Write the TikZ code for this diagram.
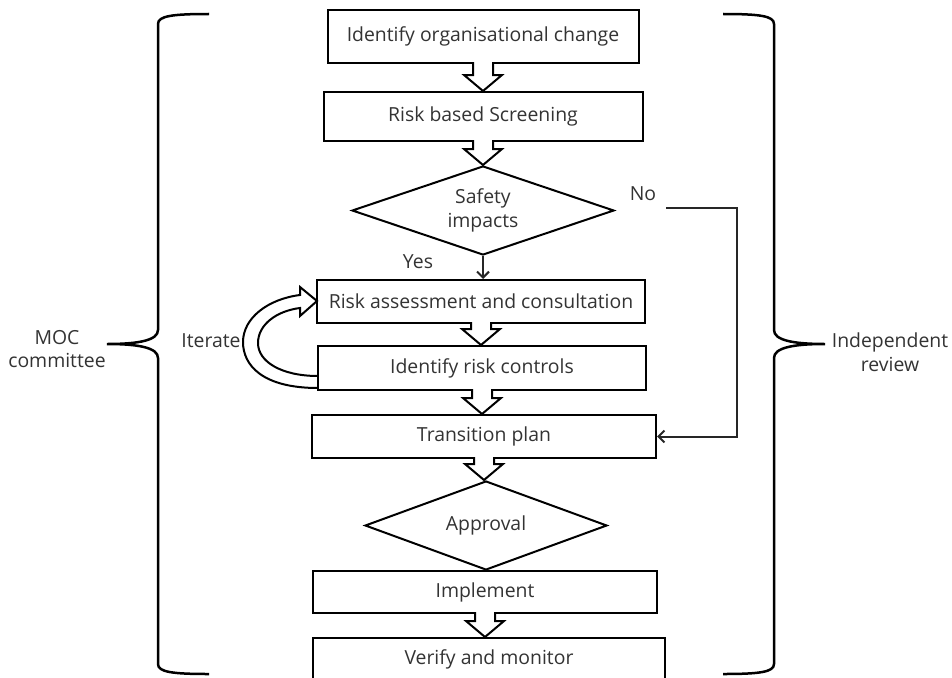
\documentclass[tikz,border=0pt]{standalone}
\usepackage{fontspec}
\setmainfont{Open Sans}
\usetikzlibrary{positioning}
\usetikzlibrary{calc}
\usetikzlibrary{shapes}
\usetikzlibrary{backgrounds}
\usetikzlibrary{arrows.meta}

\begin{document}
\begin{tikzpicture} [x=1pt,y=-1pt,
            box/.style={draw,line width=2pt,rectangle,text=black!80,minimum height=43pt,inner sep=2pt},
            decision/.style={draw,line width=2pt,diamond,aspect=3,text=black!80,inner sep=0pt},
            hollow/.style={draw,fill=white,line width=2pt,line join=miter},
            flow/.style={line width=2pt,draw=black!85,-{Straight Barb[length=6pt,width=12pt]}},
            brace/.style={line width=2.5pt},
         every node/.append style={font=\fontsize{19.4}{23.5}\selectfont,align=center,text=black!80}]

\clip (0,0) rectangle (952,677);

%main flow
\node (ident) at (483,36.5) [box,minimum width=311pt,minimum height=53pt] {Identify organisational change};
\node (screen) at (483,116.5) [box,minimum width=319pt,minimum height=49pt] {Risk based Screening};
\node (safety) at (483,210.5) [decision,minimum width=262pt,minimum height=89pt] {Safety\\impacts};
\node (assess) at (481,301.5) [box,minimum width=328pt] {Risk assessment and consultation};
\node (controls) at (482,368) [box,minimum width=328pt,minimum height=44pt] {Identify risk controls};
\node (trans) at (484,436.5) [box,minimum width=344pt] {Transition plan};
\node (approval) at (486,525.5) [decision,minimum width=242pt,minimum height=89pt] {Approval};
\node (impl) at (485,592) [box,minimum width=344pt,minimum height=42pt] {Implement};
\node (verify) at (489,659) [box,minimum width=352pt,minimum height=42pt] {Verify and monitor};

% hollow arrows between the steps
\foreach \a/\b in {ident/screen,screen/safety,assess/controls,controls/trans,trans/approval,impl/verify}
   \draw[hollow] ($(\a.south)+(-10,-2)$) -- ($(\a.south |- \b.north)+(-10,-16)$) -- ++(-9,0)
      -- (\a.south |- \b.north) -- ++(19,-16) -- ++(-9,0) -- ($(\a.south)+(10,-2)$);

%yes / no
\node (yes) at (418,262) {Yes};
\node (no) at (643,194) {No};
\draw[flow] (safety.south) -- (safety.south |- assess.north);
\draw[flow] ([xshift=51pt,yshift=2.5pt]safety.east) -- ++(71,0) |- (trans.east);

%iterate
\node (iter) at (211,341) {Iterate};
\begin{pgfonlayer}{background}
   \draw[hollow] (318,388) .. controls (262,388) and (243,365) .. (243,342)
      .. controls (243,318) and (268,299) .. (300,295) -- (300,287) -- (317,301) -- (300,316)
      -- (300,308) .. controls (276,311) and (258,325) .. (258,343)
      .. controls (258,362) and (282,376) .. (318,376);
\end{pgfonlayer}

%MOC committee
\node (moc) at (57,349) {MOC\\committee};
\draw[brace] (209,14) .. controls (172,14) and (158,16) .. (158,24) -- (158,330)
   .. controls (158,340) and (140,344) .. (107,344)
   .. controls (140,344) and (158,348) .. (158,358) -- (158,664)
   .. controls (158,672) and (172,674) .. (209,674);

%independent review
\node (indep) at (890,352) {Independent\\review};
\draw[brace] (723,14) .. controls (760,14) and (774,16) .. (774,24) -- (774,330)
   .. controls (774,340) and (792,344) .. (825,344)
   .. controls (792,344) and (774,348) .. (774,358) -- (774,664)
   .. controls (774,672) and (760,674) .. (723,674);

\end{tikzpicture}
\end{document}
